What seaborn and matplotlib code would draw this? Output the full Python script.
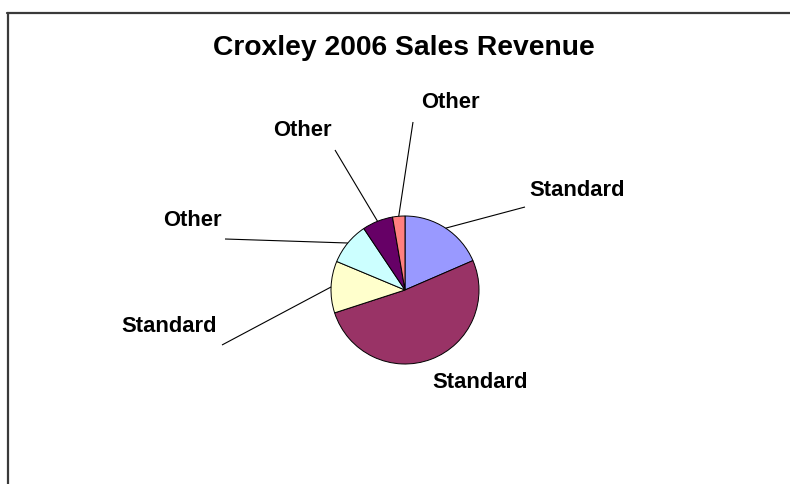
import numpy as np
import matplotlib
matplotlib.use("Agg")
import matplotlib.pyplot as plt
import seaborn as sns

# Revenue share by product line (percent), clockwise from 12 o'clock
categories = ["Standard", "Standard", "Standard", "Other", "Other", "Other"]
revenue = [18.5, 51.5, 11.3, 9.3, 6.7, 2.7]
slice_colors = ["#9999FF", "#993366", "#FFFFCC", "#CCFFFF", "#660066", "#FF8080"]
title = "Croxley 2006 Sales Revenue"

sns.set_theme(style="white")
plt.rcParams["font.family"] = ["Liberation Sans", "DejaVu Sans"]

W, H = 790, 484
fig = plt.figure(figsize=(W / 100, H / 100), dpi=100)
ax = fig.add_axes([0, 0, 1, 1])


# pixel-style layout helper (y measured from the top)
def py(y):
    return H - y


cx, cy, r = 405, 290, 74
wedges, _ = ax.pie(
    revenue,
    colors=slice_colors,
    startangle=90,
    counterclock=False,
    center=(cx, py(cy)),
    radius=r,
    wedgeprops=dict(edgecolor="black", linewidth=0.7),
    frame=True,
)
ax.set_xlim(0, W)
ax.set_ylim(0, H)
ax.set_aspect("equal")
ax.axis("off")

# label placement: text centre and leader-line end (None = no leader)
label_pos = [(577, 190), (480, 382), (169, 326), (192, 221), (302, 130), (450, 102)]
leader_end = [(525, 207), None, (222, 345), (225, 239), (335, 150), (413, 122)]

for w, name, (tx, ty), end in zip(wedges, categories, label_pos, leader_end):
    mid = np.deg2rad((w.theta1 + w.theta2) / 2)
    ex = cx + r * np.cos(mid)
    ey = py(cy) + r * np.sin(mid)
    ax.text(tx, py(ty), name, ha="center", va="center", fontsize=15.8,
            fontweight="bold", color="black")
    if end is not None:
        ax.plot([ex, end[0]], [ey, py(end[1])], color="black",
                linewidth=0.8, solid_capstyle="butt")

ax.text(404, py(48), title, ha="center", va="center", fontsize=20.3,
        fontweight="bold", color="black")

# chart area border (runs off the right and bottom)
ax.plot([7.5, 7.5], [py(13), -5], color="#3a3a3a", linewidth=1.6)
ax.plot([7, W + 5], [py(13), py(13)], color="#3a3a3a", linewidth=1.6)

fig.savefig("out.png", dpi=100)
